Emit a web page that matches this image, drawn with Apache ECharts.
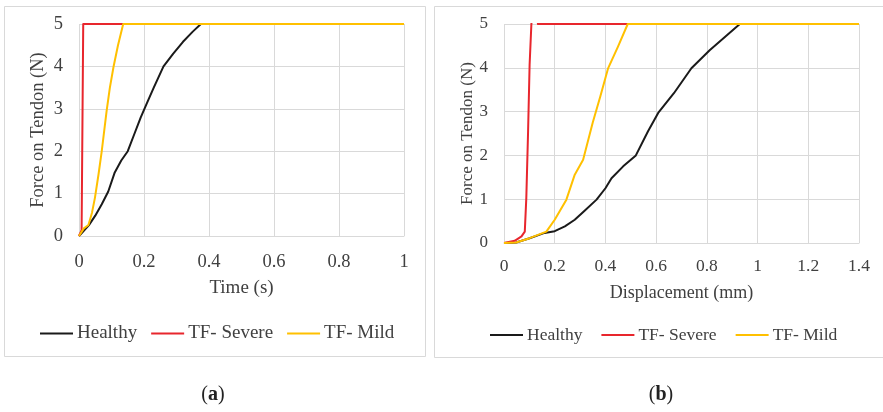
<!DOCTYPE html>
<html>
<head>
<meta charset="utf-8">
<script src="https://cdn.jsdelivr.net/npm/echarts@6/dist/echarts.min.js"></script>
<style>
html,body{margin:0;padding:0;background:#fff}
#main{width:883px;height:412px}
</style>
</head>
<body>
<div id="main"></div>
<script>
var names = ['Healthy', 'TF- Severe', 'TF- Mild'];
var colors = ['#1a1a1a', '#e8262d', '#ffc000'];

// (a) force vs time
var tHealthy = [0, 0.03, 0.05, 0.07, 0.09, 0.11, 0.13, 0.15, 0.17, 0.19, 0.21, 0.23, 0.26, 0.29, 0.32, 0.35, 0.375, 1];
var fHealthyT = [0, 0.25, 0.48, 0.75, 1.05, 1.5, 1.78, 2.0, 2.4, 2.8, 3.15, 3.5, 4.0, 4.3, 4.58, 4.82, 5, 5];
var tSevere = [0, 0.008, 0.013, 1];
var fSevereT = [0, 0.14, 5, 5];
var tMild = [0, 0.015, 0.029, 0.04, 0.049, 0.06, 0.07, 0.085, 0.095, 0.106, 0.12, 0.136, 1];
var fMildT = [0, 0.18, 0.26, 0.55, 0.9, 1.45, 2.0, 2.95, 3.5, 3.98, 4.5, 5, 5];

// (b) force vs displacement
var dHealthy = [0, 0.048, 0.101, 0.16, 0.2, 0.24, 0.279, 0.32, 0.365, 0.4, 0.424, 0.47, 0.52, 0.568, 0.608, 0.67, 0.739, 0.811, 0.87, 0.93, 1.4];
var fHealthyD = [0, 0.01, 0.11, 0.23, 0.27, 0.38, 0.53, 0.75, 0.99, 1.25, 1.48, 1.75, 2.0, 2.55, 2.97, 3.42, 3.99, 4.4, 4.7, 5, 5];
var dSevere = [0, 0.042, 0.069, 0.082, 0.088, 0.095, 0.101, 0.108, 0.12, 0.134, 1.4];
var fSevereD = [0, 0.05, 0.15, 0.26, 1.03, 2.55, 4.07, 5, 5.6, 5, 5];
var dMild = [0, 0.048, 0.101, 0.167, 0.2, 0.246, 0.279, 0.312, 0.35, 0.38, 0.41, 0.45, 0.488, 1.4];
var fMildD = [0, 0.01, 0.11, 0.26, 0.53, 0.99, 1.56, 1.9, 2.75, 3.35, 3.98, 4.49, 5, 5];

var xTicksA = [0, 0.2, 0.4, 0.6, 0.8, 1];
var xTicksB = [0, 0.2, 0.4, 0.6, 0.8, 1, 1.2, 1.4];

function pairs(xs, ys) {
  var out = [];
  for (var i = 0; i < xs.length; i++) out.push([xs[i], ys[i]]);
  return out;
}

var txt = '#404040';
var grid = '#d9d9d9';
var serif = 'Liberation Serif';

function xAxis(idx, ticks, name, fs, gap, margin) {
  return {
    type: 'value', gridIndex: idx,
    min: 0, max: ticks[ticks.length - 1], interval: 0.2,
    name: name, nameLocation: 'middle', nameGap: gap,
    nameTextStyle: { color: txt, fontFamily: serif, fontSize: fs + 0.5 },
    axisLine: { show: true, lineStyle: { color: grid, width: 1 } },
    axisTick: { show: false },
    axisLabel: { color: txt, fontFamily: serif, fontSize: fs, margin: margin },
    splitLine: { show: true, lineStyle: { color: grid, width: 1 } }
  };
}
function yAxis(idx, fs, gap) {
  return {
    type: 'value', gridIndex: idx,
    min: 0, max: 5, interval: 1,
    name: 'Force on Tendon (N)', nameLocation: 'middle', nameGap: gap,
    nameTextStyle: { color: txt, fontFamily: serif, fontSize: fs },
    axisLine: { show: false },
    axisTick: { show: false },
    axisLabel: { color: txt, fontFamily: serif, fontSize: fs, margin: 16 },
    splitLine: { show: true, lineStyle: { color: grid, width: 1 } }
  };
}
function line(name, color, idx, data) {
  return {
    name: name, type: 'line', xAxisIndex: idx, yAxisIndex: idx,
    data: data, symbol: 'none', smooth: false, clip: true,
    lineStyle: { color: color, width: 2, join: 'round' }, itemStyle: { color: color },
    animation: false
  };
}
function legend(left, top, fs, gap) {
  return {
    left: left, top: top, padding: 0, itemWidth: 33, itemHeight: 2, itemGap: gap,
    icon: 'rect', data: names,
    textStyle: { color: txt, fontFamily: serif, fontSize: fs, padding: [0, 0, 0, -1] }
  };
}

var chart = echarts.init(document.getElementById('main'));
chart.setOption({
  backgroundColor: '#fff',
  animation: false,
  grid: [
    { left: 79, top: 24, width: 325, height: 212 },
    { left: 504, top: 24, width: 355, height: 219 }
  ],
  xAxis: [xAxis(0, xTicksA, 'Time (s)', 18.5, 43, 17), xAxis(1, xTicksB, 'Displacement (mm)', 17.5, 41, 14)],
  yAxis: [yAxis(0, 18.5, 31), yAxis(1, 17, 24)],
  legend: [legend(40, 324, 19, 14), legend(490, 326, 17.5, 19)],
  series: [
    line(names[0], colors[0], 0, pairs(tHealthy, fHealthyT)),
    line(names[1], colors[1], 0, pairs(tSevere, fSevereT)),
    line(names[2], colors[2], 0, pairs(tMild, fMildT)),
    line(names[0], colors[0], 1, pairs(dHealthy, fHealthyD)),
    line(names[1], colors[1], 1, pairs(dSevere, fSevereD)),
    line(names[2], colors[2], 1, pairs(dMild, fMildD))
  ],
  graphic: [
    { type: 'rect', shape: { x: 4.5, y: 6.5, width: 421, height: 350 }, style: { fill: null, stroke: grid, lineWidth: 1 }, z: -1 },
    { type: 'rect', shape: { x: 434.5, y: 6.5, width: 460, height: 351 }, style: { fill: null, stroke: grid, lineWidth: 1 }, z: -1 },
    { type: 'text', x: 213, y: 395, style: { text: '{p|(}{b|a}{p|)}', align: 'center', verticalAlign: 'middle',
      rich: { p: { fontFamily: serif, fontSize: 20, fill: '#222' }, b: { fontFamily: serif, fontSize: 20, fontWeight: 'bold', fill: '#222' } } } },
    { type: 'text', x: 661, y: 395, style: { text: '{p|(}{b|b}{p|)}', align: 'center', verticalAlign: 'middle',
      rich: { p: { fontFamily: serif, fontSize: 20, fill: '#222' }, b: { fontFamily: serif, fontSize: 20, fontWeight: 'bold', fill: '#222' } } } }
  ]
});
</script>
</body>
</html>
